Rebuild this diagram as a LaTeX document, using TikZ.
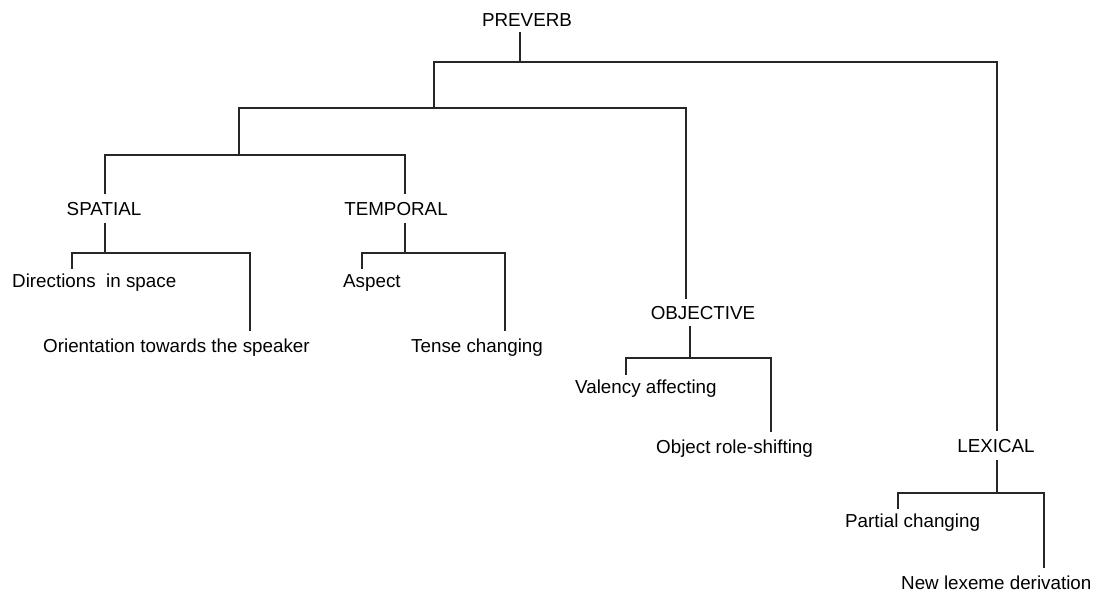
\documentclass[tikz,border=0pt]{standalone}
\usepackage{fontspec}
\setmainfont{Liberation Sans}
\begin{document}
\begin{tikzpicture}[x=1pt,y=-1pt,
  every node/.style={font=\fontsize{18.8}{22}\selectfont, inner sep=0pt, text height=13.5pt, text depth=0pt},
  cat/.style={anchor=base, outer ysep=8pt},
  leaf/.style={anchor=base west, outer ysep=5pt},
  leafr/.style={anchor=base west, outer ysep=8pt},
  conn/.style={draw=black!85, line width=1.1pt}]
\useasboundingbox (0,0) rectangle (1098,592);
% nodes
\node[cat, outer ysep=6pt] (preverb) at (527,26) {PREVERB};
\node[cat] (spatial) at (104,215) {SPATIAL};
\node[cat] (temporal) at (396,215) {TEMPORAL};
\node[cat, outer ysep=7pt] (objective) at (703,319) {OBJECTIVE};
\node[cat] (lexical) at (996,452) {LEXICAL};
\node[leaf] (dir) at (12,287) {Directions~ in space};
\node[leafr] (orient) at (43,352) {Orientation towards the speaker};
\node[leaf] (aspect) at (343,287) {Aspect};
\node[leafr] (tense) at (411,352) {Tense changing};
\node[leaf] (valency) at (575,393) {Valency affecting};
\node[leafr] (object) at (656,453) {Object role-shifting};
\node[leaf] (partial) at (845,527) {Partial changing};
\node[leafr] (newlex) at (901,589) {New lexeme derivation};
% junctions
\coordinate (j0) at (520,62);
\coordinate (j0L) at (434,62);
\coordinate (j0R) at (997,62);
\coordinate (j1L) at (239,108);
\coordinate (j1R) at (686,108);
\coordinate (j2L) at (105,155);
\coordinate (j2R) at (405,155);
\coordinate (sJ) at (105,253);
\coordinate (sL) at (72,253);
\coordinate (sR) at (250,253);
\coordinate (tJ) at (405,253);
\coordinate (tL) at (362,253);
\coordinate (tR) at (505,253);
\coordinate (oJ) at (690,358);
\coordinate (oL) at (626,358);
\coordinate (oR) at (771,358);
\coordinate (lJ) at (997,493);
\coordinate (lL) at (898,493);
\coordinate (lR) at (1044,493);
% connectors
\draw[conn] (preverb.south -| j0) -- (j0);
\draw[conn] (j1L -| j0L) -- (j0L) -- (j0R) -- (lexical.north -| j0R);
\draw[conn] (j2L -| j1L) -- (j1L) -- (j1R) -- (objective.north -| j1R);
\draw[conn] (spatial.north -| j2L) -- (j2L) -- (j2R) -- (temporal.north -| j2R);
\draw[conn] (spatial.south -| sJ) -- (sJ);
\draw[conn] (dir.north -| sL) -- (sL) -- (sR) -- (orient.north -| sR);
\draw[conn] (temporal.south -| tJ) -- (tJ);
\draw[conn] (aspect.north -| tL) -- (tL) -- (tR) -- (tense.north -| tR);
\draw[conn] (objective.south -| oJ) -- (oJ);
\draw[conn] (valency.north -| oL) -- (oL) -- (oR) -- (object.north -| oR);
\draw[conn] (lexical.south -| lJ) -- (lJ);
\draw[conn] (partial.north -| lL) -- (lL) -- (lR) -- (newlex.north -| lR);
\end{tikzpicture}
\end{document}
